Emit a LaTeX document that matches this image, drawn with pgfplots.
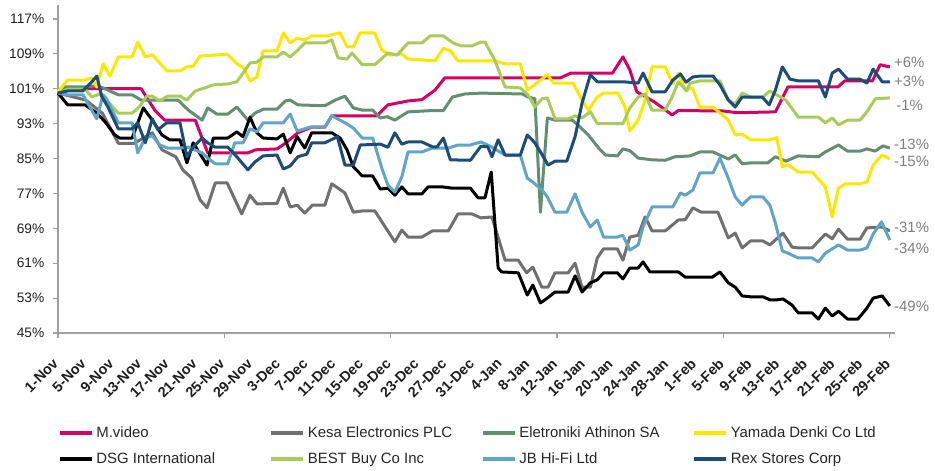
\documentclass[border=0pt]{standalone}
\usepackage{pgfplots}
\pgfplotsset{compat=1.18}
\usepackage{fontspec}
\setmainfont{Liberation Sans}
\definecolor{cmv}{RGB}{214,0,98}
\definecolor{ckesa}{RGB}{112,112,112}
\definecolor{celet}{RGB}{98,142,114}
\definecolor{cyam}{RGB}{255,230,0}
\definecolor{cdsg}{RGB}{0,0,0}
\definecolor{cbest}{RGB}{168,203,90}
\definecolor{cjb}{RGB}{96,165,199}
\definecolor{crex}{RGB}{28,76,120}
\definecolor{axisgray}{RGB}{160,160,160}
\definecolor{labelgray}{RGB}{128,128,128}
\begin{document}
\begin{tikzpicture}
\begin{axis}[
  at={(0pt,0pt)}, anchor=south west,
  scale only axis, width=628pt, height=246pt,
  xmin=0, xmax=120.8, ymin=45, ymax=120.2,
  axis x line*=bottom, axis y line*=left,
  axis line style={draw=axisgray, line width=0.9pt},
  tick align=outside,
  major tick length=3.75pt, minor tick length=3.75pt,
  tick style={draw=axisgray, line width=0.9pt},
  ytick={45,53,...,117},
  yticklabels={45\%,53\%,61\%,69\%,77\%,85\%,93\%,101\%,109\%,117\%},
  yticklabel style={font=\fontsize{10.3}{12}\selectfont, text=black!88, xshift=-3pt},
  xtick={0,4,...,120},
  xticklabels={1-Nov,5-Nov,9-Nov,13-Nov,17-Nov,21-Nov,25-Nov,29-Nov,3-Dec,7-Dec,11-Dec,15-Dec,19-Dec,23-Dec,27-Dec,31-Dec,4-Jan,8-Jan,12-Jan,16-Jan,20-Jan,24-Jan,28-Jan,1-Feb,5-Feb,9-Feb,13-Feb,17-Feb,21-Feb,25-Feb,29-Feb},
  major x tick style={draw=none},
  minor xtick={0,24,...,120},
  xticklabel style={font=\fontsize{10.8}{12}\selectfont\bfseries, text=black!88, xshift=-4.5pt, yshift=-14.5pt, rotate=45, anchor=north east, inner sep=0pt},
  clip=false,
  legend columns=4,
  legend style={draw=none, fill=none, at={(0,-0.276)}, anchor=north west,
    font=\fontsize{11.2}{13}\selectfont, text=black!85, row sep=6pt, inner sep=0pt,
    nodes={inner sep=2pt}},
  legend image code/.code={\draw[#1, line width=2.6pt] (0pt,0pt) -- (24pt,0pt);},
  every axis plot/.append style={line width=2.25pt, line join=round},
]
\addplot[color=cmv] coordinates {(0,100) (1,101) (5,101) (10.7,101) (12,101) (14,96) (15.4,93.8) (19.8,93.8) (21.6,86.3) (27.4,86.3) (28.5,87) (31.6,87.2) (32.8,88.5) (34.6,90.9) (36.6,92.2) (38.5,92.2) (39.5,94.8) (46,94.8) (47.6,97.3) (50.5,98.2) (52.5,98.5) (54.4,100.7) (55.8,103.5) (72.5,103.5) (74,104.6) (80,104.6) (81.5,108.3) (82.5,105.3) (83.5,100.3) (86,98) (88.6,95) (89.5,96) (96,95.9) (98,95.5) (103.5,95.7) (105.3,101.4) (112.5,101.4) (113.5,102.8) (117.5,102.8) (118.6,106.5) (120,106)};
\addlegendentry{\makebox[128pt][l]{M.video}}
\addplot[color=ckesa] coordinates {(0,100) (1,99.6) (4,98.4) (6.4,95.4) (8.7,88.5) (11,88.5) (13.6,90.9) (15,87) (17,85.4) (18,82.4) (19.3,80.5) (20.5,75.5) (21.5,73.7) (22.7,79.4) (24.4,79.4) (26.5,72.3) (27.7,76.6) (28.7,74.6) (31.6,74.7) (32.5,78.2) (33.5,73.9) (34.5,74.3) (35.6,72.5) (36.7,74.3) (38.5,74.3) (39.5,79.2) (41.4,77.1) (42.6,72.7) (44,73) (45.7,73) (48.6,65.9) (49.6,68.6) (50.5,67) (52.5,67) (54,68.4) (56.3,68.4) (57.7,72.3) (59.7,72.3) (61,71.4) (62.6,71.6) (64.5,61.7) (66.4,61.7) (67.6,58.8) (68.5,60.1) (69.8,55.5) (70.7,55.5) (71.7,58.8) (73.6,58.8) (74.6,61) (75.6,55.5) (76.8,55.5) (77.8,62.2) (78.7,64.3) (80.7,64.3) (81.5,61.7) (82.5,67) (83.7,67.4) (84.7,71.6) (85.7,68.4) (87.6,68.4) (89.5,70.9) (90.5,71) (91.6,73.7) (92.8,72.7) (95.2,72.7) (96.7,66.8) (97.7,67.9) (98.7,64.5) (99.9,66.1) (101.7,66.1) (102.7,65.2) (104.6,67.9) (105.9,64.7) (106.8,64.5) (108.8,64.5) (110.7,67.7) (111.7,66.6) (112.6,68.8) (113.9,66.5) (115.7,66.5) (116.7,69.1) (118.9,69.3) (120,68.4)};
\addlegendentry{\makebox[128pt][l]{Kesa Electronics PLC}}
\addplot[color=celet] coordinates {(0,100) (1,101.4) (4,101.4) (5.5,101.7) (6.5,101.2) (8.7,99.6) (10.7,99.6) (12,98.4) (17.3,98.4) (18.8,96.1) (20.8,93.8) (21.6,96.6) (22.9,95.2) (24.5,95.2) (25.8,96.8) (27.4,93.8) (28.4,95.4) (29.6,96.3) (31.6,96.3) (32.8,98.2) (33.5,98.4) (34.6,97.3) (38.5,97.1) (40,98.4) (41.4,99.3) (42.6,96.6) (43.9,96.1) (45.4,96.1) (46.5,94.3) (47.5,94.6) (48.6,93.8) (50.5,95.7) (54,96) (55.6,96) (56.9,99.1) (58.7,99.8) (61,100) (67,99.8) (67.8,99.1) (68.8,98.7) (69.6,72.7) (70.6,94.3) (71.7,93.8) (74.2,93.8) (75,92.7) (76.5,90.4) (78,87.4) (79,85.8) (80.7,85.6) (81.5,87.2) (82.5,86.8) (83.7,85.1) (85.7,84.7) (87.6,84.6) (89,85.4) (91.2,85.6) (92.6,86.5) (94.5,86.5) (96.7,84.9) (97.7,85.8) (98.7,83.8) (99.9,84) (102.4,84) (103.5,85.4) (105,84.4) (106.8,85.6) (109.7,85.4) (110.7,86.5) (112.6,88.1) (113.9,86.7) (115.7,86.7) (116.7,87.2) (117.9,86.7) (119,87.9) (120,87.4)};
\addlegendentry{\makebox[128pt][l]{Eletroniki Athinon SA}}
\addplot[color=cyam] coordinates {(0,100.3) (1.4,103) (3.9,103) (4.9,103.5) (5.6,101.4) (6.5,106.7) (7.5,103.9) (8.7,108.3) (10.7,108.3) (11.5,111.7) (12.6,108.3) (13.6,108.8) (15.7,105.1) (17.6,105.1) (18.6,106) (19.5,106.2) (20.5,108.5) (24.4,108.9) (26,106.5) (26.7,105.9) (27.7,102.8) (28.7,103.7) (29.6,109.7) (31.6,109.7) (32.5,113.8) (33.5,111.5) (34.5,112.6) (35.6,112.2) (36.6,113.1) (38.8,113.1) (40.7,113.8) (41.7,110.6) (42.6,110.6) (43.6,113.8) (45.7,113.8) (46.7,109.9) (47.9,108.7) (49.6,109) (50.5,107.8) (54.4,107.4) (55.6,110.3) (56.6,109.7) (57.7,107.4) (63,107.4) (64.5,106.7) (66.7,106.7) (67.7,100.7) (68.5,101.6) (70.6,104.2) (71.5,102.3) (74.3,102.3) (75.6,98.4) (76.5,96.1) (77.8,99.1) (78.7,100) (80.8,100) (81.8,96.8) (82.5,91.3) (83.7,93.8) (84.7,98.4) (85.7,106) (87.6,106) (88.7,102.1) (89.5,104.6) (90.5,100.7) (91.5,101.2) (92.6,96.8) (94.5,96.8) (96.7,93.8) (97.7,90.4) (98.7,90.6) (99.9,89.3) (102.7,89.3) (103.7,89.8) (104.5,83.1) (105.3,83.6) (106.8,81.9) (108.8,81.9) (110.7,78.5) (111.7,71.6) (112.6,78.2) (113.6,79.2) (115.7,79.2) (116.7,79.6) (117.6,83.5) (118.9,85.8) (120,84.9)};
\addlegendentry{\makebox[128pt][l]{Yamada Denki Co Ltd}}
\addplot[color=cdsg] coordinates {(0,100) (1.4,97.3) (3.9,97.3) (5.6,95.4) (6.8,93.4) (8.2,90.4) (8.9,89.7) (10.7,89.7) (12.3,96.6) (13.6,93.8) (15,90.4) (16.1,89.3) (17.6,89.3) (18.6,84) (19.5,88.6) (21.5,83.5) (22.4,89.7) (24.5,89.7) (25.8,91.1) (26.7,90) (27.7,94.5) (28.7,90.9) (29.6,89.7) (31.6,89.5) (32.5,90.6) (33.5,86.3) (34.5,90) (35.6,87.4) (36.6,90.9) (39.5,90.9) (40.7,89.7) (41.7,87) (42.6,83.1) (43.9,81) (45.4,81) (46.5,78) (47.6,78.2) (48.6,76.6) (49.6,78.5) (50.5,76.9) (52.5,76.9) (53.4,78.5) (55.4,78.5) (56.9,78.2) (59.5,78.2) (60.6,76) (61.6,76) (62.5,81.9) (63.5,59.9) (64,59) (66.4,58.8) (67.7,53.7) (68.5,56) (69.6,51.9) (70.6,53) (71.7,54.4) (73.6,54.4) (74.6,58.1) (75.6,54.4) (76.8,56.5) (77.8,57.2) (78.7,58.8) (80.7,58.8) (81.5,57.4) (82.5,59.9) (83.7,59.9) (84.4,61.3) (85.4,59) (89.5,59) (90.5,57.8) (94.4,57.8) (95.5,59) (96.7,56.5) (97.7,55.5) (98.7,53.5) (99.9,53.3) (101.7,53.3) (102.7,52.6) (103.7,52.6) (104.6,52.8) (105.9,51.4) (106.8,49.6) (108.8,49.6) (109.7,48.2) (110.7,50.7) (111.7,48.9) (112.6,50) (113.9,48.2) (115.4,48.2) (116.7,50.7) (117.6,53) (118.9,53.5) (120,51.2)};
\addlegendentry{\makebox[128pt][l]{DSG International}}
\addplot[color=cbest] coordinates {(0,100) (1.4,100.9) (3.9,100.9) (4.9,99.1) (6,99.8) (7,98.4) (8.7,95.4) (10.7,95.4) (11.7,96.8) (12.8,99.3) (13.6,99.3) (14.7,98.2) (15.8,99.3) (17.6,99.3) (18.6,98.4) (19.8,100.5) (21.2,101.2) (22.4,101.9) (24.5,102.1) (25.8,102.6) (26.7,104.6) (27.7,106.9) (28.7,107.1) (29.6,108.3) (31.6,108.3) (32.5,109.4) (33.5,108.3) (34.5,109.7) (35.6,111.5) (38.5,111.5) (39.5,112.2) (40.4,108.1) (41.7,107.8) (42.4,109.2) (43.9,106.5) (45.7,106.5) (47.6,109.2) (48.9,108.7) (50.5,111.5) (52.5,111.5) (53.7,113.1) (55.6,113.1) (57,111.5) (58.2,110.8) (59.7,110.8) (61,111.7) (61.6,111.7) (63,107.6) (64.5,101.4) (66.7,101.2) (67.8,99.6) (68.8,96.8) (69.8,98.7) (70.6,98.9) (71.7,94.1) (73.6,94.1) (74.6,94.8) (75.6,94.3) (76.8,95.7) (77.8,93) (81.5,93) (82.5,96.6) (83.7,99.1) (84.7,99.8) (85.7,96.1) (87.6,96.1) (88.6,99.1) (89.5,102.6) (90.7,100.5) (91.2,102.3) (92.6,102.8) (95.5,102.8) (96.7,98.4) (97.7,97.5) (98.7,100) (99.9,99.1) (101.7,99.1) (102.7,100.5) (103.7,99.6) (105,98.4) (106.8,94.5) (109.7,94.5) (110.7,93.2) (111.7,94.3) (112.6,92.7) (113.9,93.8) (115.7,93.8) (116.7,95.7) (117.9,98.7) (120,98.9)};
\addlegendentry{\makebox[128pt][l]{BEST Buy Co Inc}}
\addplot[color=cjb] coordinates {(0,100) (1.4,99.6) (3.6,99.6) (4.6,96.8) (5.6,94.1) (6.5,99.6) (7,98.7) (8.7,93.2) (10.7,93.2) (11.5,86.3) (12.6,89.7) (13.6,90.2) (14.7,88.1) (15.8,87.4) (17.6,87.4) (18.8,87.6) (20.8,86.3) (21.6,85.1) (22.7,83.8) (24.5,83.8) (25.5,88.6) (26.7,88.6) (27.7,91.8) (28.7,91.1) (29.6,93.2) (32.5,93.2) (33.5,95.2) (34.5,91.3) (36.4,92.2) (38.5,92.2) (39.5,94.8) (41.4,93.2) (42.6,92) (43.9,89.7) (45.4,89.7) (46.8,82.4) (47.6,78.9) (48.6,77.3) (49.6,80.8) (50.5,86.5) (52.5,86.5) (54,87.4) (56.3,87.4) (57.7,88.1) (59.5,88.1) (61,88.8) (62.5,87.7) (64.5,85.8) (66.7,85.8) (67.7,80.5) (68.5,79.6) (69.8,77.8) (70.6,76.2) (71.7,72.7) (73.4,72.7) (74.6,76.9) (75.6,72.7) (76.8,69.3) (77.8,70.9) (78.7,67) (80.7,67) (81.5,67.4) (82.5,64) (83.7,65.2) (84.4,69.3) (85.7,73.9) (88.7,73.9) (89.8,77.1) (90.5,76.6) (91.6,77.8) (92.6,81.7) (94.5,81.7) (95.5,85.1) (96.7,80.5) (97.7,76.2) (98.7,74.3) (99.9,76.2) (101.7,76.2) (102.7,74.3) (103.5,70.2) (104.5,63.8) (105.3,63.3) (106.8,62.2) (108.8,62.2) (109.7,61.3) (110.7,63.3) (112.6,65.2) (113.9,64) (115.7,64) (116.7,64.5) (117.6,67.7) (118.8,70.5) (120,66.3)};
\addlegendentry{\makebox[128pt][l]{JB Hi-Fi Ltd}}
\addplot[color=crex] coordinates {(0,100) (1.4,100.5) (3.6,100.5) (4.6,102.1) (5.6,103.9) (6.3,99.3) (7.2,96.8) (8.7,91.8) (10.7,91.8) (11.5,93.2) (12.6,88.6) (13.6,94.1) (14.4,91.6) (15.7,93.2) (17.6,93.2) (18.6,85.4) (19.5,87.6) (20.8,89.7) (21.6,88.6) (22.7,87.6) (24.5,87.6) (25.8,85.4) (27.4,82.4) (28.4,84.2) (29.6,85.6) (31.6,85.8) (32.5,82.6) (33.5,83.3) (34.6,85.4) (35.9,86) (36.6,88.6) (38.5,88.6) (40.3,90) (41.4,83.5) (42.6,83.5) (43.6,88.1) (46.5,88.3) (47.6,87.6) (48.6,90.9) (49.6,88.3) (50.5,88.8) (52.5,88.8) (54,87.7) (54.7,87.7) (55.6,89.7) (56.6,84.7) (59.5,84.6) (61,87.8) (62,87.7) (62.6,85.4) (63.5,89.3) (64.5,85.8) (66.7,85.8) (67.7,90.4) (68.8,88.6) (69.8,86) (70.7,83.5) (71.7,84.4) (73.4,84.4) (74.6,90) (75.6,97.7) (76.8,104.2) (77.8,102.6) (81.5,102.6) (83.7,102.3) (84.4,104.6) (85.7,100.3) (87.6,100.3) (88.7,103) (89.8,104.4) (90.6,102.5) (91.6,103.7) (92.6,103.9) (94.5,103.9) (95.5,101.9) (96.7,98.4) (97.7,96.8) (98.7,99.1) (101.6,99.1) (102.6,97.3) (103.5,100.7) (104.5,106) (105.6,103.2) (106.8,102.8) (109.7,102.8) (110.7,99.1) (111.7,104.6) (112.6,105.5) (113.9,103.2) (115.7,103.2) (116.7,102.3) (117.6,105.5) (118.9,102.6) (120,102.6)};
\addlegendentry{\makebox[128pt][l]{Rex Stores Corp}}
\begin{scope}[every node/.style={anchor=west, inner sep=0pt, font=\fontsize{11.2}{13}\selectfont, text=labelgray}]
\node at (axis cs:120.6,107.1) {+6\%};
\node at (axis cs:120.6,102.8) {+3\%};
\node at (axis cs:120.9,97.1) {-1\%};
\node at (axis cs:120.6,88.3) {-13\%};
\node at (axis cs:120.6,84.4) {-15\%};
\node at (axis cs:120.6,69.3) {-31\%};
\node at (axis cs:120.6,64.5) {-34\%};
\node at (axis cs:120.6,51.0) {-49\%};
\end{scope}
\end{axis}
\pgfresetboundingbox
\path (-43.5pt,-103.5pt) rectangle (657.75pt,249.75pt);
\end{tikzpicture}
\end{document}
